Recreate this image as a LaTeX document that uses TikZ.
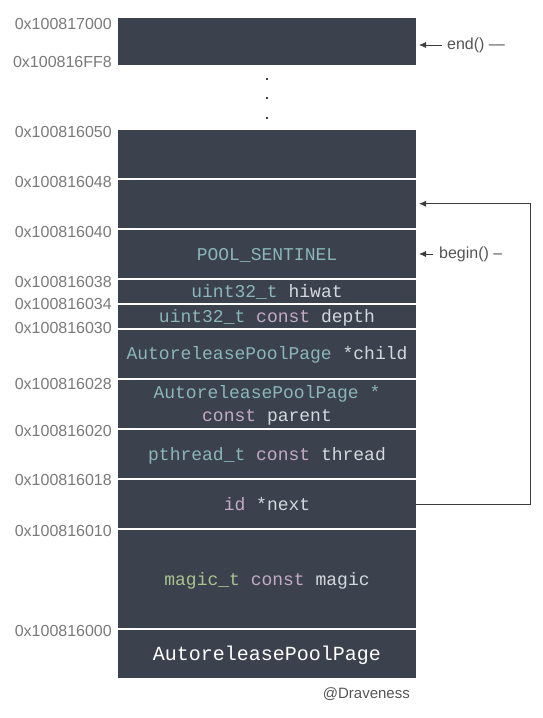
\documentclass[tikz,border=0pt]{standalone}
\usepackage{fontspec}
\setmainfont{Liberation Sans}
\newfontfamily\codefont{Liberation Mono}
\usepackage{tikz}
\usetikzlibrary{arrows.meta,positioning,calc}
\usepackage{xcolor}

\definecolor{slot}{HTML}{3B414D}
\definecolor{typec}{HTML}{8AB7B7}
\definecolor{constc}{HTML}{C4AAC4}
\definecolor{namec}{HTML}{D5D8DE}
\definecolor{magicc}{HTML}{AAC28F}
\definecolor{labelc}{HTML}{7A7A7A}
\definecolor{arrowc}{HTML}{3C3C3C}
\definecolor{notec}{HTML}{555555}

\newcommand{\tyname}[1]{\textcolor{typec}{#1}}
\newcommand{\kwconst}[1]{\textcolor{constc}{#1}}

\begin{document}
\begin{tikzpicture}[x=1pt,y=-1pt,
  cell/.style={fill=slot, minimum width=298pt, minimum height=#1, inner sep=0pt, outer sep=0pt,
    text height=14pt, text depth=2pt,
    text=namec, align=center, font=\codefont\fontsize{18}{23}\selectfont},
  addr/.style={anchor=east, inner sep=0pt, text=labelc, font=\fontsize{16}{19}\selectfont},
  note/.style={anchor=west, inner sep=0pt, text=notec, font=\fontsize{16}{19}\selectfont},
  ptr/.style={draw=arrowc, line width=0.8pt, -{Latex[length=7pt,width=6pt]}}]

\fill[white] (0,0) rectangle (542,718);
\useasboundingbox (0,0) rectangle (542,718);

% top of the page
\node[cell=47pt] (top) at (267,41.5) {};
\foreach \y in {79,98,118}
  \fill (267,\y) circle (1.2pt);

% the page, from high to low addresses
\node[cell=47.5pt] (free1) at (267,153.75) {};
\node[cell=48.5pt] (free2) at (267,203.75) {};
\node[cell=48pt] (sentinel) at (267,254) {\tyname{POOL\_SENTINEL}};
\node[cell=22.5pt] (hiwat) at (267,291.25) {\tyname{uint32\_t} hiwat};
\node[cell=23pt] (depth) at (267,316) {\tyname{uint32\_t} \kwconst{const} depth};
\node[cell=48pt] (child) at (267,353.5) {\tyname{AutoreleasePoolPage} *child};
\node[cell=48.5pt, text height=, text depth=-2pt] (parent) at (267,403.75) {\tyname{AutoreleasePoolPage *}\\\kwconst{const} parent};
\node[cell=48pt] (thread) at (267,454) {\tyname{pthread\_t} \kwconst{const} thread};
\node[cell=48pt] (next) at (267,504) {\kwconst{id} *next};
\node[cell=98pt] (magic) at (267,579) {\textcolor{magicc}{magic\_t} \kwconst{const} magic};
\node[cell=48pt, text=white, font=\codefont\fontsize{20}{24}\selectfont] (page) at (267,654) {AutoreleasePoolPage};

% addresses
\node[addr] (a17000) at (112,24) {0x100817000};
\node[addr] (a16ff8) at (112,62) {0x100816FF8};
\node[addr] (a16050) at (112,131.5) {0x100816050};
\node[addr] (a16048) at (112,182) {0x100816048};
\node[addr] (a16040) at (112,231.5) {0x100816040};
\node[addr] (a16038) at (112,282) {0x100816038};
\node[addr] (a16034) at (112,304) {0x100816034};
\node[addr] (a16030) at (112,328) {0x100816030};
\node[addr] (a16028) at (112,384) {0x100816028};
\node[addr] (a16020) at (112,431) {0x100816020};
\node[addr] (a16018) at (112,480) {0x100816018};
\node[addr] (a16010) at (112,531) {0x100816010};
\node[addr] (a16000) at (112,631) {0x100816000};

% end() and begin()
\node[note] (endlbl) at (447,45) {end() —};
\draw[ptr, shorten <=5pt, shorten >=3pt] (endlbl.west) -- (endlbl.west -| top.east);
\node[note] (beginlbl) at (439,254) {begin() –};
\draw[ptr, shorten <=6pt, shorten >=3pt] (beginlbl.west) -- (beginlbl.west -| sentinel.east);

% next points at the first free slot
\coordinate (turn) at (530,504);
\draw[ptr, shorten >=3pt] (next.east) -- (turn) |- (free2.east);

\node[anchor=east, inner sep=0pt, text=notec, font=\fontsize{15}{18}\selectfont] (author) at (410,694) {@Draveness};

\end{tikzpicture}
\end{document}
